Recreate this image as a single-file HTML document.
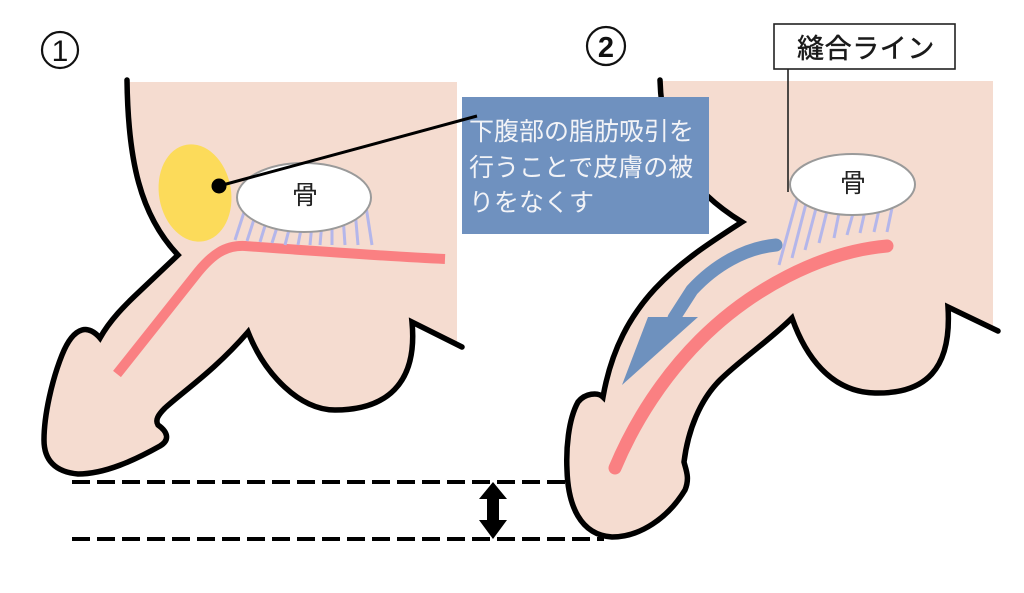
<!DOCTYPE html>
<html><head><meta charset="utf-8"><style>
html,body{margin:0;padding:0;background:#fff;}
svg{display:block;}
text{font-family:"Liberation Sans","Noto Sans CJK JP",sans-serif;}
</style></head><body>
<svg width="1024" height="593" viewBox="0 0 1024 593" xmlns="http://www.w3.org/2000/svg">
<rect width="1024" height="593" fill="#fff"/>

<!-- ===== Figure 1 ===== -->
<path d="M127,82 C128,160 140,215 178,255 L140,291 C125,305 110,320 100,338 C95,332 88,328 82,330 C75,332 68,340 62,355 C52,380 44,415 44,440 C44,460 55,472 78,474 C105,474 135,460 160,446 C170,440 168,432 158,425 C155,420 158,415 165,408 C185,390 215,370 248,332 C265,375 300,410 335,410 C385,410 418,385 412,322 L457,344 L457,82 Z" fill="#f5dcd0"/>
<path d="M127,80 C128,160 140,215 178,255 L140,291 C125,305 110,320 100,338 C95,332 88,328 82,330 C75,332 68,340 62,355 C52,380 44,415 44,440 C44,460 55,472 78,474 C105,474 135,460 160,446 C170,440 168,432 158,425 C155,420 158,415 165,408 C185,390 215,370 248,332 C265,375 300,410 335,410 C385,410 418,385 412,322 L462,347" fill="none" stroke="#000" stroke-width="5.5" stroke-linejoin="miter" stroke-linecap="round"/>

<!-- red line fig1 -->
<path d="M445,259 C400,257 300,250 245,246 C225,245 212,255 198,272 L117,374" fill="none" stroke="#fa8082" stroke-width="10"/>

<!-- lavender lines fig1 -->
<g stroke="#b4b6ea" stroke-width="3" fill="none">
<line x1="248" y1="200" x2="235" y2="240"/>
<line x1="258" y1="207" x2="247" y2="241"/>
<line x1="269" y1="213" x2="260" y2="242"/>
<line x1="280" y1="218" x2="272" y2="243"/>
<line x1="291" y1="222" x2="285" y2="245"/>
<line x1="302" y1="224" x2="298" y2="245"/>
<line x1="312" y1="224" x2="310" y2="245"/>
<line x1="322" y1="222" x2="320" y2="245"/>
<line x1="332" y1="220" x2="332" y2="245"/>
<line x1="343" y1="216" x2="345" y2="245"/>
<line x1="355" y1="210" x2="358" y2="245"/>
<line x1="365" y1="200" x2="372" y2="245"/>
</g>

<!-- yellow fat -->
<ellipse cx="195" cy="193" rx="36" ry="49" transform="rotate(-10 195 193)" fill="#fcdb5a"/>

<!-- bone fig1 -->
<ellipse cx="304" cy="197.5" rx="67" ry="34.5" fill="#fff" stroke="#9a9a9a" stroke-width="2"/>
<text x="305" y="204" font-size="26" text-anchor="middle" fill="#222">骨</text>

<!-- circled 1 -->
<circle cx="60" cy="50" r="18" fill="none" stroke="#111" stroke-width="2.2"/>
<text x="60" y="61" font-size="30" text-anchor="middle" fill="#111">1</text>

<!-- ===== Figure 2 ===== -->
<path d="M660,81 C662,150 690,190 742,222 C680,262 620,300 603,397 C598,392 585,393 578,402 C568,420 566,450 567,470 C568,505 580,535 612,537 C640,537 668,518 685,490 C690,478 686,470 684,462 C688,430 700,400 720,380 C740,360 770,340 792,318 C805,355 830,392 875,393 C925,394 952,370 948,307 L993,329 L993,81 Z" fill="#f5dcd0"/>
<path d="M660,80 C662,150 690,190 742,222 C680,262 620,300 603,397 C598,392 585,393 578,402 C568,420 566,450 567,470 C568,505 580,535 612,537 C640,537 668,518 685,490 C690,478 686,470 684,462 C688,430 700,400 720,380 C740,360 770,340 792,318 C805,355 830,392 875,393 C925,394 952,370 948,307 L998,331" fill="none" stroke="#000" stroke-width="5.5" stroke-linejoin="miter" stroke-linecap="round"/>

<!-- red fig2 -->
<path d="M887,246 C820,252 750,290 700,340 C665,375 635,420 615,468" fill="none" stroke="#fa8082" stroke-width="13" stroke-linecap="round"/>

<!-- blue arrow fig2 -->
<path d="M776,245 C745,248 715,265 692,290 L674,318" fill="none" stroke="#6e91be" stroke-width="13" stroke-linecap="round"/>
<polygon points="648,317 698,317 622,385" fill="#6e91be"/>

<!-- lavender lines fig2 -->
<g stroke="#b4b6ea" stroke-width="3" fill="none">
<line x1="800" y1="188" x2="779" y2="265"/>
<line x1="809" y1="192" x2="792" y2="258"/>
<line x1="819" y1="197" x2="805" y2="250"/>
<line x1="829" y1="203" x2="819" y2="243"/>
<line x1="840" y1="208" x2="834" y2="238"/>
<line x1="854" y1="210" x2="847" y2="235"/>
<line x1="865" y1="211" x2="860" y2="233"/>
<line x1="879" y1="210" x2="874" y2="232"/>
<line x1="892" y1="208" x2="887" y2="232"/>
</g>

<!-- bone fig2 -->
<ellipse cx="852.5" cy="184.5" rx="62.5" ry="30.5" fill="#fff" stroke="#9a9a9a" stroke-width="2"/>
<text x="853" y="192" font-size="26" text-anchor="middle" fill="#222">骨</text>

<!-- suture label -->
<line x1="788" y1="69" x2="788" y2="192" stroke="#222" stroke-width="1.6"/>
<rect x="774" y="24" width="181" height="45" fill="#fff" stroke="#222" stroke-width="1.6"/>
<text x="797" y="58" font-size="27" fill="#1a1a1a" stroke="#1a1a1a" stroke-width="0.5" letter-spacing="0.6">縫合ライン</text>

<!-- circled 2 -->
<circle cx="606" cy="46" r="19" fill="none" stroke="#111" stroke-width="2.2"/>
<text x="606" y="57" font-size="29" font-weight="bold" text-anchor="middle" fill="#111">2</text>

<!-- ===== Blue callout box ===== -->
<rect x="462" y="97" width="247" height="137" fill="#6f91bf"/>
<g font-size="25" fill="#f2f3f7">
<text x="469" y="140">下腹部の脂肪吸引を</text>
<text x="469" y="176">行うことで皮膚の被</text>
<text x="469" y="211">りをなくす</text>
</g>

<!-- leader to fat -->
<line x1="219" y1="186" x2="477" y2="116" stroke="#000" stroke-width="3"/>
<circle cx="219" cy="186" r="7.5" fill="#000"/>

<!-- ===== Dashed comparison lines ===== -->
<line x1="72" y1="482" x2="567" y2="482" stroke="#000" stroke-width="4" stroke-dasharray="18 7"/>
<line x1="72" y1="539" x2="604" y2="539" stroke="#000" stroke-width="4" stroke-dasharray="18 7"/>
<polygon points="493,482 507,499 499,499 499,520 507,520 493,539 479,520 487,520 487,499 479,499" fill="#000"/>
</svg>
</body></html>
